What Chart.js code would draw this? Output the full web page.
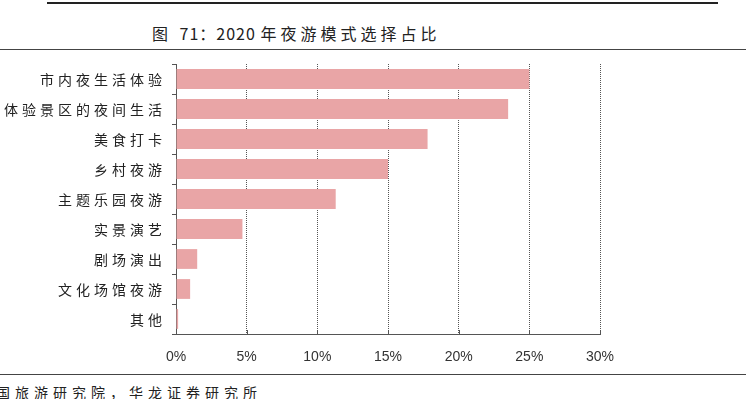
<!DOCTYPE html>
<html>
<head>
<meta charset="utf-8">
<script src="https://cdn.jsdelivr.net/npm/chart.js@4"></script>
<style>
  body { margin: 0; width: 746px; height: 399px; background: #fff; position: relative; overflow: hidden; font-family: "Noto Sans CJK SC", sans-serif; }
  #topline { position: absolute; left: 47px; top: 2px; width: 671px; height: 2px; background: #222; }
  #title { position: absolute; left: 152px; top: 21px; font-size: 16px; color: #222; white-space: nowrap; }
  #title .cn { letter-spacing: 4px; }
  #title .num { letter-spacing: 1px; }
  #line2 { position: absolute; left: 0; top: 49px; width: 746px; height: 1px; background: #444; }
  #line3 { position: absolute; left: 0; top: 374px; width: 746px; height: 1px; background: #444; }
  #source { position: absolute; left: -4px; top: 382px; font-size: 14px; letter-spacing: 5px; color: #222; white-space: nowrap; }
  #wrap { position: absolute; left: 0; top: 0; width: 746px; height: 399px; }
</style>
</head>
<body>
<div id="topline"></div>
<div id="title"><span class="cn">图 </span><span class="num">71：2020 </span><span class="cn">年夜游模式选择占比</span></div>
<div id="line2"></div>
<div id="line3"></div>
<div id="source">国旅游研究院，华龙证券研究所</div>
<div id="wrap"><canvas id="barChart" width="746" height="399"></canvas></div>
<script>
// Data
const categories = ["市内夜生活体验", "体验景区的夜间生活", "美食打卡", "乡村夜游", "主题乐园夜游", "实景演艺", "剧场演出", "文化场馆夜游", "其他"];
const shares = [25.0, 23.5, 17.8, 15.0, 11.3, 4.7, 1.5, 1.0, 0.15];
const xTicks = [0, 5, 10, 15, 20, 25, 30];

// small upward tick marks on the x axis + spaced category labels
const extras = {
  id: "extras",
  afterDraw(chart) {
    const ctx = chart.ctx;
    const x = chart.scales.x;
    const y = chart.scales.y;
    const area = chart.chartArea;
    ctx.save();
    ctx.strokeStyle = "#555";
    ctx.lineWidth = 1;
    xTicks.forEach(v => {
      const px = Math.round(x.getPixelForValue(v)) + 0.5;
      ctx.beginPath();
      ctx.moveTo(px, area.bottom - 4);
      ctx.lineTo(px, area.bottom);
      ctx.stroke();
    });
    // category labels with letter spacing
    ctx.font = "14px 'Noto Sans CJK SC'";
    ctx.fillStyle = "#222";
    ctx.textBaseline = "middle";
    ctx.textAlign = "left";
    const gap = 4;
    const right = area.left - 14;
    categories.forEach((label, i) => {
      const chars = Array.from(label);
      const widths = chars.map(c => ctx.measureText(c).width);
      const total = widths.reduce((a, b) => a + b, 0) + gap * (chars.length - 1);
      let cx = right - total;
      const cy = y.getPixelForValue(i) + 1;
      chars.forEach((c, k) => {
        ctx.fillText(c, cx, cy);
        cx += widths[k] + gap;
      });
    });
    ctx.restore();
  }
};

const ctx = document.getElementById("barChart").getContext("2d");
new Chart(ctx, {
  type: "bar",
  data: {
    labels: categories,
    datasets: [{
      data: shares,
      backgroundColor: "#E9A5A6",
      barPercentage: 0.66,
      categoryPercentage: 1
    }]
  },
  options: {
    indexAxis: "y",
    responsive: false,
    animation: false,
    layout: { padding: { left: 0, right: 146, top: 64, bottom: 30 } },
    plugins: { legend: { display: false }, tooltip: { enabled: false } },
    scales: {
      x: {
        min: 0,
        max: 30,
        afterFit: s => { s.height = 35; },
        afterBuildTicks: s => { s.ticks = xTicks.map(v => ({ value: v })); },
        grid: { color: "#555", drawTicks: false },
        border: { display: true, color: "#555", width: 1, dash: [1, 1] },
        ticks: {
          padding: 15,
          color: "#333",
          font: { family: "Liberation Sans, Arial", size: 14 },
          callback: v => v + "%"
        }
      },
      y: {
        afterFit: s => { s.width = 176; },
        grid: { drawOnChartArea: false, drawTicks: true, tickLength: 4, color: "#555", offset: true },
        border: { display: true, color: "#555", width: 1 },
        ticks: { display: false }
      }
    }
  },
  plugins: [extras]
});
</script>
</body>
</html>
